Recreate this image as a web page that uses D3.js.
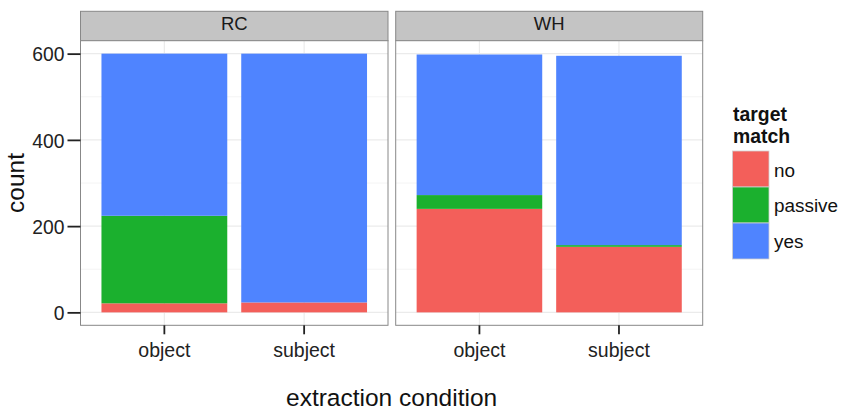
<!DOCTYPE html>
<html><head><meta charset="utf-8">
<script src="https://cdn.jsdelivr.net/npm/d3@7"></script>
<style>body{margin:0;background:#fff}svg{display:block}text{font-family:"Liberation Sans",Arial,sans-serif}</style>
</head><body><svg id="c" width="842" height="411"></svg>
<script>
const panels = ["RC", "WH"];
const conditions = ["object", "subject"];
const matchLevels = ["no", "passive", "yes"];
// counts per panel per condition: [object, subject]
const noCounts      = {RC: [21, 23],   WH: [240, 152]};
const passiveCounts = {RC: [203, 0],   WH: [32, 4]};
const yesCounts     = {RC: [376, 577], WH: [326, 439]};
const yTicks = [0, 200, 400, 600];
const colors = ["#f35f5a", "#1bb02e", "#4f84ff"];

const FONT = '"Liberation Sans",Arial,sans-serif';
const svg = d3.select("#c");
const panelX = {RC: [80.5, 388], WH: [395.7, 702.7]};
const stripTop = 11.3, panelTop = 40.7, panelBottom = 325.3;
const y = d3.scaleLinear().domain([-30, 630]).range([panelBottom, panelTop]);
const color = d3.scaleOrdinal().domain(matchLevels).range(colors);

panels.forEach((p, pi) => {
  const [x0, x1] = panelX[p];
  const x = d3.scaleBand().domain(conditions).range([x0, x1]).paddingInner(0.1).paddingOuter(0.15);
  const g = svg.append("g");
  // strip
  g.append("rect").attr("x", x0).attr("y", stripTop).attr("width", x1 - x0).attr("height", panelTop - stripTop)
    .attr("fill", "#c4c4c4").attr("stroke", "#888").attr("stroke-width", 1);
  g.append("text").attr("x", (x0 + x1) / 2).attr("y", 29.5)
    .attr("text-anchor", "middle").attr("font-size", 18.5).attr("fill", "#1a1a1a").text(p);
  // panel background
  g.append("rect").attr("x", x0).attr("y", panelTop).attr("width", x1 - x0).attr("height", panelBottom - panelTop).attr("fill", "#fff");
  // minor grid
  [100, 300, 500].forEach(v => g.append("line").attr("x1", x0).attr("x2", x1).attr("y1", y(v)).attr("y2", y(v))
    .attr("stroke", "#f4f4f4").attr("stroke-width", 1));
  // major grid
  yTicks.forEach(v => g.append("line").attr("x1", x0).attr("x2", x1).attr("y1", y(v)).attr("y2", y(v))
    .attr("stroke", "#ebebeb").attr("stroke-width", 1.2));
  conditions.forEach(c => {
    const cx = x(c) + x.bandwidth() / 2;
    g.append("line").attr("x1", cx).attr("x2", cx).attr("y1", panelTop).attr("y2", panelBottom)
      .attr("stroke", "#ebebeb").attr("stroke-width", 1.2);
  });
  // bars
  const rows = conditions.map((c, i) => ({cond: c, no: noCounts[p][i], passive: passiveCounts[p][i], yes: yesCounts[p][i]}));
  const stacked = d3.stack().keys(matchLevels)(rows);
  stacked.forEach(layer => {
    g.selectAll(null).data(layer).join("rect")
      .attr("x", d => x(d.data.cond)).attr("width", x.bandwidth())
      .attr("y", d => y(d[1])).attr("height", d => y(d[0]) - y(d[1]))
      .attr("fill", color(layer.key));
  });
  // border
  g.append("rect").attr("x", x0).attr("y", panelTop).attr("width", x1 - x0).attr("height", panelBottom - panelTop)
    .attr("fill", "none").attr("stroke", "#888").attr("stroke-width", 1);
  // x axis
  const xa = g.append("g").attr("transform", `translate(0,${panelBottom})`)
    .call(d3.axisBottom(x).tickSize(9));
  xa.select(".domain").remove();
  xa.selectAll(".tick line").attr("stroke", "#222").attr("stroke-width", 1.8);
  xa.selectAll(".tick text").attr("font-size", 19.5).attr("fill", "#222").attr("y", 31.4).attr("dy", 0)
    .style("font-family", FONT);
  if (pi === 0) {
    const ya = g.append("g").attr("transform", `translate(${x0},0)`)
      .call(d3.axisLeft(y).tickValues(yTicks).tickSize(13).tickPadding(3));
    ya.select(".domain").remove();
    ya.selectAll(".tick line").attr("stroke", "#222").attr("stroke-width", 1.8);
    ya.selectAll(".tick text").attr("font-size", 19.3).attr("fill", "#222").attr("dy", "0.38em")
      .style("font-family", FONT);
  }
});

// axis titles
svg.append("text").attr("x", 391.6).attr("y", 406).attr("text-anchor", "middle").attr("font-size", 24.5).attr("fill", "#111").text("extraction condition");
svg.append("text").attr("transform", "translate(23.5,183) rotate(-90)").attr("text-anchor", "middle").attr("font-size", 24.5).attr("fill", "#111").text("count");

// legend
const lg = svg.append("g");
lg.append("text").attr("x", 733).attr("y", 121.3).attr("font-size", 19.4).attr("font-weight", "bold").attr("fill", "#111").text("target");
lg.append("text").attr("x", 733).attr("y", 142.7).attr("font-size", 19.4).attr("font-weight", "bold").attr("fill", "#111").text("match");
const labelBase = [177, 212, 248];
matchLevels.forEach((m, i) => {
  const ky = 151 + i * 36;
  lg.append("rect").attr("x", 732.5).attr("y", ky).attr("width", 36.5).attr("height", 36)
    .attr("fill", color(m)).attr("stroke", "#cfcfcf").attr("stroke-width", 0.8);
  lg.append("text").attr("x", 774).attr("y", labelBase[i]).attr("font-size", 18.9).attr("fill", "#111").text(m);
});
</script></body></html>
